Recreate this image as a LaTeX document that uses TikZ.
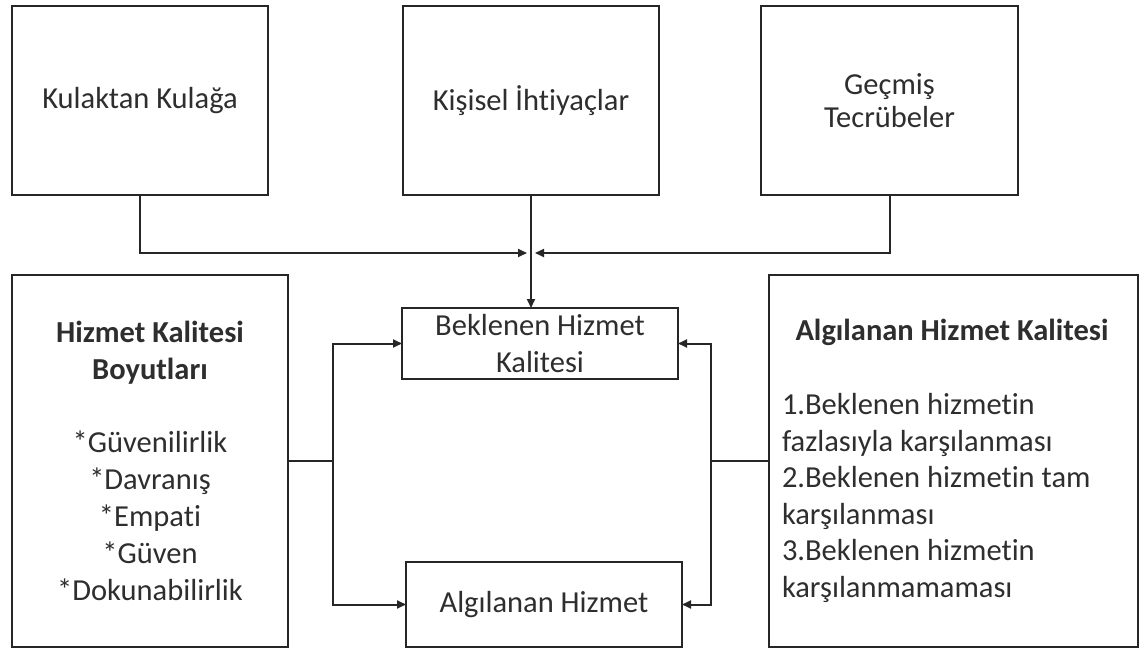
\documentclass[tikz,border=0pt]{standalone}
\usepackage{fontspec}
\setmainfont{Carlito}[Ligatures={NoCommon}]
\usetikzlibrary{arrows.meta}
\newcommand\bodyfont{\fontsize{30.5}{37}\selectfont}
\begin{document}
\begin{tikzpicture}[x=1pt,y=-1pt,
  box/.style={draw=black!85, line width=2pt, inner sep=0pt, outer sep=0pt, align=center, text=black!82},
  txt/.style={inner sep=0pt, outer sep=0pt, text=black!82},
  conn/.style={line width=2pt, draw=black!85},
  arr/.style={conn, -{Triangle[length=9pt,width=8pt]}},
  font=\bodyfont]
\useasboundingbox[fill=white] (0,0) rectangle (1144,650);
% top boxes
\node[box, minimum width=256pt, minimum height=189pt] (kul) at (140,100.5) {Kulaktan Kulağa};
\node[box, minimum width=256pt, minimum height=189pt] (kis) at (531,100.5) {Kişisel İhtiyaçlar};
\node[box, minimum width=257pt, minimum height=189pt] (gec) at (889.5,100.5) {Geçmiş\\[-4pt]Tecrübeler};
% middle boxes
\node[box, minimum width=276pt, minimum height=71pt] (bek) at (540,343.5) {Beklenen Hizmet\\Kalitesi};
\node[box, minimum width=276pt, minimum height=85pt] (alg) at (544,604.5) {Algılanan Hizmet};
% left big box
\node[box, minimum width=276pt, minimum height=372pt] (hkb) at (150,461)
  {\textbf{Hizmet Kalitesi}\\\textbf{Boyutları}\\[36pt]{*}Güvenilirlik\\{*}Davranış\\{*}Empati\\{*}Güven\\{*}Dokunabilirlik};
% right big box
\node[box, minimum width=369pt, minimum height=372pt] (ahk) at (953.5,461) {};
\node[txt, anchor=base, font=\bodyfont\bfseries] (ahkt) at (952,340) {Algılanan Hizmet Kalitesi};
\node[txt, anchor=west, align=left, font=\fontsize{30.5}{36.5}\selectfont] (ahkl) at (782,498)
  {1.Beklenen hizmetin\\fazlasıyla karşılanması\\2.Beklenen hizmetin tam\\karşılanması\\3.Beklenen hizmetin\\karşılanmamaması};
% connectors top
\coordinate (jk1) at (527,253);
\coordinate (jk2) at (535,253);
\draw[arr] (kul.south) |- (jk1);
\draw[arr] (gec.south) |- (jk2);
\draw[arr] (kis.south) -- (kis.south |- bek.north);
% left connectors
\coordinate (jl) at (333,461);
\draw[conn] (hkb.east) -- (jl);
\draw[arr] (jl) |- (bek.west);
\draw[arr] (jl) |- (alg.west);
% right connectors
\coordinate (jr) at (711,461);
\draw[conn] (ahk.west) -- (jr);
\draw[arr] (jr) |- (bek.east);
\draw[arr] (jr) |- (alg.east);
\end{tikzpicture}
\end{document}
